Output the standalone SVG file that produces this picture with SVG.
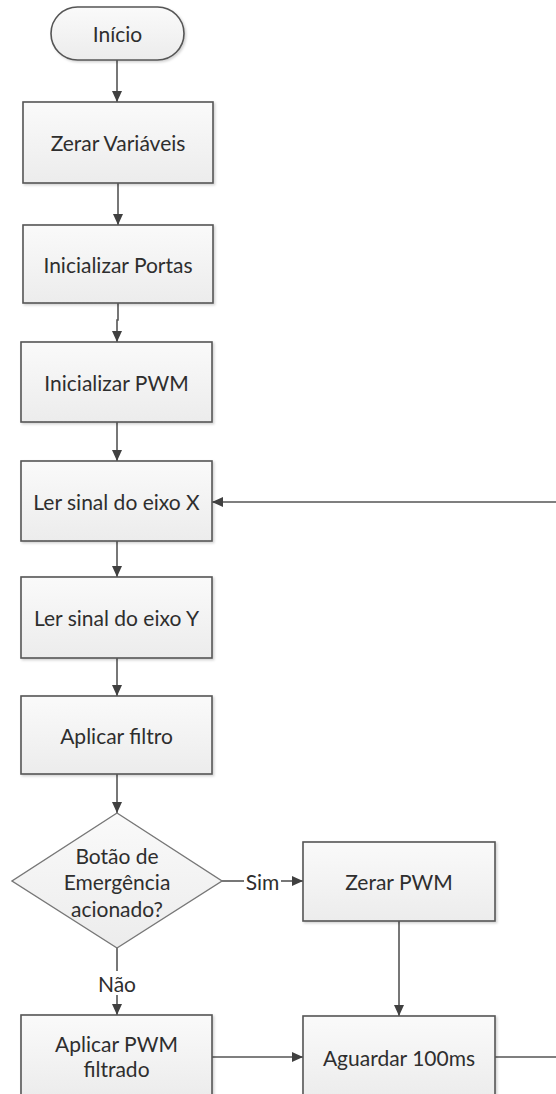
<svg xmlns="http://www.w3.org/2000/svg" width="556" height="1094" viewBox="0 0 556 1094">
<defs>
  <linearGradient id="g" x1="0" y1="0" x2="0" y2="1">
    <stop offset="0" stop-color="#fafafa"/>
    <stop offset="1" stop-color="#ececec"/>
  </linearGradient>
  <filter id="sh" x="-10%" y="-10%" width="130%" height="130%">
    <feDropShadow dx="1.5" dy="1.5" stdDeviation="1.2" flood-color="#000" flood-opacity="0.18"/>
  </filter>
  <marker id="ah" markerWidth="12" markerHeight="10" refX="11" refY="5" orient="auto" markerUnits="userSpaceOnUse">
    <path d="M0,0 L11,5 L0,10 Z" fill="#404040"/>
  </marker>
</defs>
<style>
  .box { fill: url(#g); stroke: #555; stroke-width: 1.6; filter: url(#sh); }
  .dia { fill: url(#g); stroke: #777; stroke-width: 1.4; }
  .t { font-family: Lato, "Open Sans", sans-serif; font-size: 21px; fill: #2e2e2e; text-anchor: middle; dominant-baseline: central; }
  .c { fill: none; stroke: #555; stroke-width: 1.6; }
  .ca { fill: none; stroke: #555; stroke-width: 1.6; marker-end: url(#ah); }
</style>
<rect width="556" height="1094" fill="#fff"/>

<g id="connectors">
  <path class="ca" d="M117,60 V102"/>
  <path class="ca" d="M118,183 V225"/>
  <path class="ca" d="M118,303 V320 H117 V342"/>
  <path class="ca" d="M117,422 V461"/>
  <path class="ca" d="M117,541 V577"/>
  <path class="ca" d="M117,658 V696"/>
  <path class="ca" d="M117,774 V813"/>
  <path class="c" d="M222,881 H244"/>
  <path class="ca" d="M281,881 H303"/>
  <path class="c" d="M117,948 V971"/>
  <path class="ca" d="M117,995 V1015"/>
  <path class="ca" d="M399,921 V1016"/>
  <path class="ca" d="M212,1057 H303"/>
  <path class="ca" d="M495,1057 H562 V502 H212"/>
  <text class="t" x="262.5" y="881">Sim</text>
  <text class="t" x="117" y="983">Não</text>
</g>

<g id="inicio">
  <rect class="box" x="51" y="7" width="133" height="53" rx="26.5"/>
  <text class="t" x="117.5" y="33.5">Início</text>
</g>
<g id="zerar-variaveis">
  <rect class="box" x="23" y="102" width="190" height="81"/>
  <text class="t" x="118" y="142.5">Zerar Variáveis</text>
</g>
<g id="inicializar-portas">
  <rect class="box" x="23" y="225" width="190" height="78"/>
  <text class="t" x="118" y="264">Inicializar Portas</text>
</g>
<g id="inicializar-pwm">
  <rect class="box" x="21" y="342" width="191" height="80"/>
  <text class="t" x="116.5" y="382">Inicializar PWM</text>
</g>
<g id="ler-x">
  <rect class="box" x="21" y="461" width="191" height="80"/>
  <text class="t" x="116.5" y="501">Ler sinal do eixo X</text>
</g>
<g id="ler-y">
  <rect class="box" x="21" y="577" width="191" height="81"/>
  <text class="t" x="116.5" y="617.5">Ler sinal do eixo Y</text>
</g>
<g id="aplicar-filtro">
  <rect class="box" x="21" y="696" width="191" height="78"/>
  <text class="t" x="116.5" y="735">Aplicar filtro</text>
</g>
<g id="decisao">
  <path class="dia" d="M117,813 L222,881 L117,948 L12,881 Z"/>
  <text class="t" x="117" y="855">Botão de</text>
  <text class="t" x="117" y="881">Emergência</text>
  <text class="t" x="117" y="908">acionado?</text>
</g>
<g id="zerar-pwm">
  <rect class="box" x="303" y="842" width="192" height="79"/>
  <text class="t" x="399" y="881.5">Zerar PWM</text>
</g>
<g id="aplicar-pwm">
  <rect class="box" x="21" y="1015" width="191" height="82"/>
  <text class="t" x="116.5" y="1043">Aplicar PWM</text>
  <text class="t" x="116.5" y="1068">filtrado</text>
</g>
<g id="aguardar">
  <rect class="box" x="303" y="1016" width="192" height="82"/>
  <text class="t" x="399" y="1057">Aguardar 100ms</text>
</g>
</svg>
